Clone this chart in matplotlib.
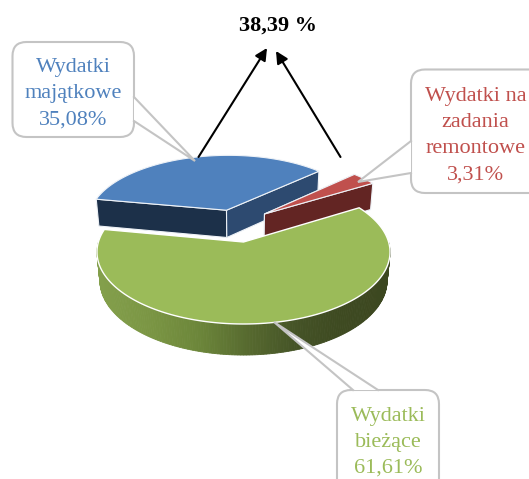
import numpy as np
import matplotlib
matplotlib.use("Agg")
import matplotlib.pyplot as plt
from matplotlib.colors import to_rgb
from matplotlib.patches import FancyBboxPatch, Polygon

# ====================================
# DATA
# ====================================

shares = [35.08, 3.31, 61.61]
labels = ["Wydatki\nmajątkowe\n35,08%", "Wydatki na\nzadania\nremontowe\n3,31%", "Wydatki\nbieżące\n61,61%"]
total_label = "38,39 %"

# ====================================
# STYLE
# ====================================

plt.rcParams["font.family"] = ["Liberation Serif", "DejaVu Serif"]

TOP_COLORS = ["#4f81bd", "#c0504d", "#9bbb59"]
FACE_COLORS = [("#1c3049", "#2d4a70"), ("#632523", "#632523")]
RIM_X = [97, 150, 200, 250, 300, 340, 390]
RIM_COLORS = ["#84a04c", "#7b9644", "#6c863a", "#56692f", "#445226", "#3e4a21", "#3c4720"]
EDGE = "#eef2f7"
GREY = "#c4c4c4"

START_ANGLE = 169.5
X0, Y0 = 243.5, 242.0
A, B, K, DEPTH, M = 145.1, 70.6, 0.139, 29.0, 0.02
OFFSETS = [(-0.125, 0.48), (0.153, 0.42), (0.0, 0.0)]

# ====================================
# PROJECTION
# ====================================

def project(u, v, z=0.0):
    w = 1 + K * np.asarray(v) + M * z
    return X0 + A * np.asarray(u) / w, Y0 + (-B * np.asarray(v) + DEPTH * z) / w


def wedge_top(a0, a1, off):
    t = np.radians(np.linspace(a0, a1, 200))
    u = np.r_[off[0], off[0] + np.cos(t)]
    v = np.r_[off[1], off[1] + np.sin(t)]
    return np.column_stack(project(u, v))


def face(a, off):
    t = np.radians(a)
    u = np.array([off[0], off[0] + np.cos(t)])
    v = np.array([off[1], off[1] + np.sin(t)])
    x0, y0 = project(u, v)
    x1, y1 = project(u, v, 1.0)
    return np.column_stack([np.r_[x0, x1[::-1]], np.r_[y0, y1[::-1]]])


def rim_color(x):
    rgb = np.array([to_rgb(c) for c in RIM_COLORS])
    return [np.interp(x, RIM_X, rgb[:, i]) for i in range(3)]

# ====================================
# FIGURE
# ====================================

fig = plt.figure(figsize=(5.29, 4.79), dpi=100)
ax = fig.add_axes([0, 0, 1, 1])
ax.set_xlim(0, 529)
ax.set_ylim(479, 0)
ax.axis("off")

angles = START_ANGLE - np.r_[0, np.cumsum(shares)] / sum(shares) * 360

# blue and red slices, behind the green one
for i in range(2):
    a0, a1 = angles[i], angles[i + 1]
    ax.add_patch(Polygon(face(a0, OFFSETS[i]), fc=FACE_COLORS[i][0], ec=EDGE, lw=0.8, zorder=2))
    ax.add_patch(Polygon(face(a1, OFFSETS[i]), fc=FACE_COLORS[i][1], ec=EDGE, lw=0.8, zorder=2))
    ax.add_patch(Polygon(wedge_top(a0, a1, OFFSETS[i]), fc=TOP_COLORS[i], ec=EDGE, lw=0.8, zorder=3))

# green rim with gradient
rim = np.linspace(180, 360, 181)
for a0, a1 in zip(rim[:-1], rim[1:]):
    t = np.radians([a0, a1])
    x0, y0 = project(np.cos(t), np.sin(t))
    x1, y1 = project(np.cos(t), np.sin(t), 1.0)
    pts = np.column_stack([np.r_[x0, x1[::-1]], np.r_[y0, y1[::-1]]])
    c = rim_color(pts[:, 0].mean())
    ax.add_patch(Polygon(pts, fc=c, ec=c, lw=0.6, zorder=4))

ax.add_patch(Polygon(wedge_top(angles[2], angles[3], OFFSETS[2]), fc=TOP_COLORS[2], ec="white", lw=1.0, zorder=5))

# ====================================
# ARROWS AND SUM LABEL
# ====================================

for start, tip in [((198.5, 157), (267, 48)), ((340.5, 157), (276, 51))]:
    ax.annotate("", xy=tip, xytext=start, zorder=6,
                arrowprops=dict(arrowstyle="-|>", color="black", lw=1.5,
                                mutation_scale=18, shrinkA=0, shrinkB=0))

ax.text(278, 30.5, total_label, fontsize=16, fontweight="bold", ha="center", va="baseline", zorder=7)

# ====================================
# CALLOUTS
# ====================================

def callout(box, pointer, text, color, text_xy, line_gap):
    x0, y0, x1, y1 = box
    ax.add_patch(FancyBboxPatch((x0, y0), x1 - x0, y1 - y0,
                                boxstyle="round,pad=0,rounding_size=14",
                                fc="white", ec=GREY, lw=1.5, zorder=8))
    p = np.array(pointer)
    ax.add_patch(Polygon(p, closed=True, fc="white", ec="none", zorder=9))
    ax.plot(p[:, 0], p[:, 1], color=GREY, lw=1.5, zorder=10, solid_joinstyle="miter")
    for n, line in enumerate(text.split("\n")):
        ax.text(text_xy[0], text_xy[1] + n * line_gap, line, color=color, fontsize=16,
                ha="center", va="baseline", zorder=11)


callout((12.5, 42, 134, 137), [(134, 97), (195, 161), (134, 121)],
        labels[0], TOP_COLORS[0], (73, 71.5), 26.7)
callout((411, 69.5, 548, 193), [(411, 141), (358, 182), (411, 173)],
        labels[1], TOP_COLORS[1], (475.5, 100.5), 26.2)
callout((337, 390, 439, 497), [(353, 390), (274, 322), (378, 390)],
        labels[2], TOP_COLORS[2], (388, 421), 26)

fig.savefig("out.png", dpi=100)
